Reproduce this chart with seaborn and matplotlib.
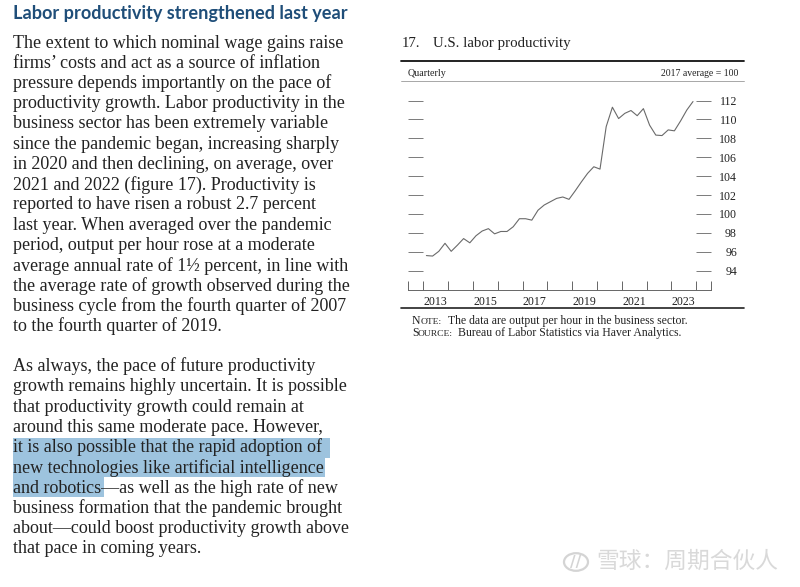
'''
U.S. labor productivity page: text column on the left, chart on the right
'''

import matplotlib
matplotlib.use('Agg')
import matplotlib.pyplot as plt
import pandas as pd
import seaborn as sns
from matplotlib.lines import Line2D
from matplotlib.patches import Circle, Rectangle

# data, 2013 Q1 .. 2023 Q4
years = [y for y in range(2013, 2024) for _ in range(4)]
quarters = [1, 2, 3, 4] * 11
productivity = [95.6, 95.55, 96.05, 96.9,
                96.05, 96.7, 97.4, 96.95,
                97.7, 98.2, 98.45, 97.9,
                98.15, 98.15, 98.65, 99.5,
                99.5, 99.35, 100.4, 100.95,
                101.3, 101.65, 101.8, 101.55,
                102.45, 103.4, 104.3, 105.0,
                104.75, 109.25, 111.3, 110.1,
                110.65, 110.95, 110.4, 111.15,
                109.4, 108.35, 108.3, 108.9,
                108.8, 109.85, 111.0, 111.9]
y_ticks = [94, 96, 98, 100, 102, 104, 106, 108, 110, 112]
x_labels = [2013, 2015, 2017, 2019, 2021, 2023]

heading = 'Labor productivity strengthened last year'
para1 = ['The extent to which nominal wage gains raise',
         'firms\u2019 costs and act as a source of inflation',
         'pressure depends importantly on the pace of',
         'productivity growth. Labor productivity in the',
         'business sector has been extremely variable',
         'since the pandemic began, increasing sharply',
         'in 2020 and then declining, on average, over',
         '2021 and 2022 (figure 17). Productivity is',
         'reported to have risen a robust 2.7 percent',
         'last year. When averaged over the pandemic',
         'period, output per hour rose at a moderate',
         'average annual rate of 1\u00bd percent, in line with',
         'the average rate of growth observed during the',
         'business cycle from the fourth quarter of 2007',
         'to the fourth quarter of 2019.']
para2 = ['As always, the pace of future productivity',
         'growth remains highly uncertain. It is possible',
         'that productivity growth could remain at',
         'around this same moderate pace. However,',
         'it is also possible that the rapid adoption of',
         'new technologies like artificial intelligence',
         'and robotics\u2014as well as the high rate of new',
         'business formation that the pandemic brought',
         'about\u2014could boost productivity growth above',
         'that pace in coming years.']

sns.set_style('white')
plt.rcParams['font.family'] = ['Liberation Serif', 'DejaVu Sans']

W, H = 800, 587
fig = plt.figure(figsize=(W / 100, H / 100), dpi=100)


def fx(x):
    return x / W


def fy(y):
    return 1 - y / H


def put(x, y, s, size, **kw):
    kw.setdefault('va', 'center')
    kw.setdefault('color', '#222222')
    fig.text(fx(x), fy(y), s, fontsize=size, **kw)


def rule(x0, x1, y, lw, color):
    fig.add_artist(Line2D([fx(x0), fx(x1)], [fy(y), fy(y)], lw=lw, color=color))


# text column
put(13, 13, heading, 13.05, family='Lato', weight='bold', color='#1f4e79')

for x0, x1, y0, y1 in [(13, 330, 438, 458), (13, 325, 458, 477), (13, 104, 477, 497)]:
    fig.add_artist(Rectangle((fx(x0), fy(y1)), fx(x1 - x0), (y1 - y0) / H,
                             color='#9dc3de', lw=0))

for i, line in enumerate(para1):
    put(13, 43 + i * 20.25, line, 13.0)
for i, line in enumerate(para2):
    put(13, 366.5 + i * 20.25, line, 13.0)

# chart
put(402, 43.5, '17.', 10.6)
put(433, 43.5, 'U.S. labor productivity', 10.7)
rule(401, 744, 60.5, 1.3, '#111111')
put(408, 73, 'Quarterly', 7.2)
put(738, 73, '2017 average = 100', 7.0, ha='right')
rule(401, 744, 81, 0.6, '#999999')
rule(401, 744, 308, 1.2, '#222222')

top, bottom = 85.0, 290.0
left, right = 408.3, 711.0
ax = fig.add_axes([fx(left), fy(bottom), fx(right - left), (bottom - top) / H])
ax.patch.set_alpha(0)

df = pd.DataFrame({'year': years, 'quarter': quarters, 'value': productivity})
df['x'] = df['year'] + (df['quarter'] - 0.5) / 4
sns.lineplot(data=df, x='x', y='value', color='#6a6a6a', linewidth=0.8, ax=ax)

# 112 sits at y=100.6px, 94 at y=270.7px
per_unit = (270.7 - 100.6) / 18
ax.set_ylim(94 - (bottom - 270.7) / per_unit, 112 + (100.6 - top) / per_unit)
x_per_year = 24.8
x0 = 2013 - (423.3 - left) / x_per_year
x1 = x0 + (right - left) / x_per_year
ax.set_xlim(x0, x1)

for side in ['top', 'left', 'right']:
    ax.spines[side].set_visible(False)
ax.spines['bottom'].set_linewidth(0.7)
ax.spines['bottom'].set_color('#666666')

ax.set_xlabel('')
ax.set_ylabel('')
ax.set_yticks(y_ticks)
ax.set_yticklabels([str(v) for v in y_ticks])
ax.tick_params(axis='y', left=True, right=True, labelleft=False, labelright=True,
               direction='in', length=10.8, width=0.7, color='#7a7a7a',
               labelsize=8.6, pad=18.7, labelcolor='#222222')
for lab in ax.get_yticklabels():
    lab.set_ha('right')

ax.set_xticks([x0] + list(range(2013, 2025)) + [x1])
ax.set_xticklabels([])
ax.set_xticks([v + 0.5 for v in x_labels], minor=True)
ax.set_xticklabels([str(v) for v in x_labels], minor=True)
ax.tick_params(axis='x', which='major', bottom=True, direction='in', length=6.5,
               width=0.7, color='#666666')
ax.tick_params(axis='x', which='minor', bottom=False, labelsize=8.6, pad=2.5,
               labelcolor='#222222')

# small caps note lines
put(412, 321, 'N', 8.5)
put(421, 321.5, 'OTE:', 6.8)
put(448, 321, 'The data are output per hour in the business sector.', 8.5)
put(412, 333, 'S', 8.5)
put(418, 333.5, 'OURCE:', 6.8)
put(458, 333, 'Bureau of Labor Statistics via Haver Analytics.', 8.5)

# watermark
fig.add_artist(Circle((fx(576), fy(562)), 12 / W, fill=False, lw=1.6, color='#d4d4d4'))
put(576, 562, '//', 11, ha='center', color='#d4d4d4', family='DejaVu Sans', weight='bold')
put(596, 561, '雪球：周期合伙人', 16.4, color='#d9d9d9', family='Noto Sans CJK SC')

fig.savefig('out.png', dpi=100)
